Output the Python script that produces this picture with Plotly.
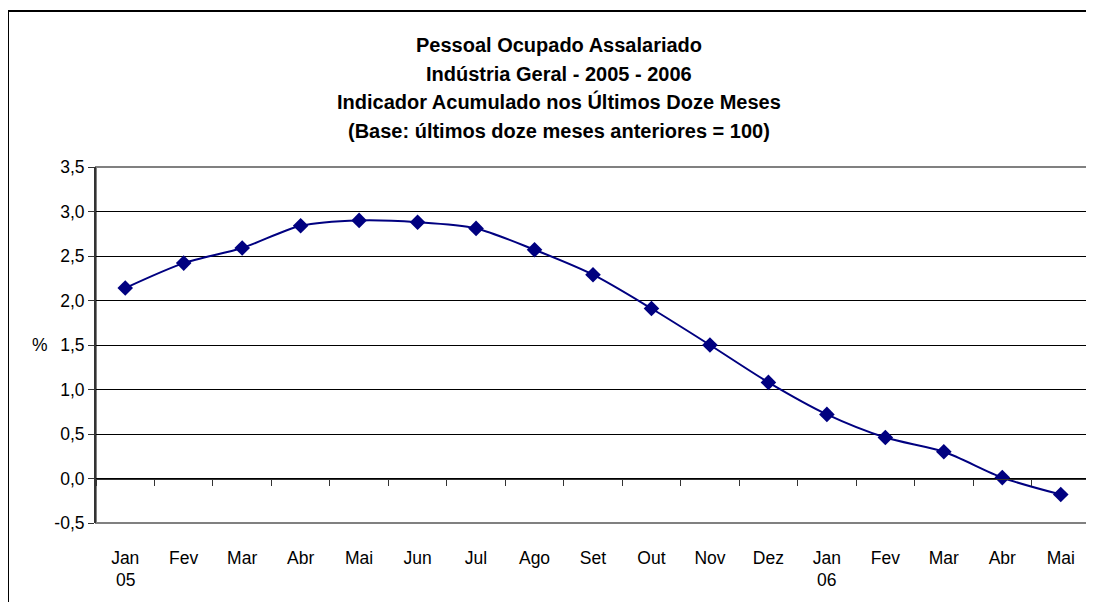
import plotly.graph_objects as go

months = ["Jan", "Fev", "Mar", "Abr", "Mai", "Jun", "Jul", "Ago", "Set", "Out",
          "Nov", "Dez", "Jan", "Fev", "Mar", "Abr", "Mai"]
years = ["05", "", "", "", "", "", "", "", "", "", "", "", "06", "", "", "", ""]
values = [2.14, 2.42, 2.59, 2.84, 2.90, 2.88, 2.81, 2.57, 2.29, 1.91,
          1.50, 1.08, 0.72, 0.46, 0.30, 0.01, -0.18]
y_ticks = [-0.5, 0.0, 0.5, 1.0, 1.5, 2.0, 2.5, 3.0, 3.5]
y_ticktext = ["-0,5", "0,0", "0,5", "1,0", "1,5", "2,0", "2,5", "3,0", "3,5"]
title_lines = ["Pessoal Ocupado Assalariado",
               "Indústria Geral - 2005 - 2006",
               "Indicador Acumulado nos Últimos Doze Meses",
               "(Base: últimos doze meses anteriores = 100)"]

W, H = 1094, 602
# page has an 8px body margin; figure coordinates below are relative to the figure
L, R, T, B = 88, 12, 159, 87
ph = H - T - B
pw = W - L - R
ymin, ymax = -0.5, 3.5

x_idx = list(range(len(months)))
boundaries = [i - 0.5 for i in range(len(months) + 1)]

font = "Liberation Sans, Arial, sans-serif"
tick_size = 17.5

fig = go.Figure()
fig.add_trace(go.Scatter(
    x=x_idx, y=values, mode="lines+markers",
    line=dict(color="#000080", width=2, shape="spline", smoothing=0.8),
    marker=dict(symbol="diamond", size=12, color="#000080"),
    showlegend=False, hoverinfo="x+y"))
# invisible helper trace to host the zero-line axis
fig.add_trace(go.Scatter(x=x_idx, y=values, xaxis="x2", mode="lines",
                         line=dict(width=0), opacity=0, showlegend=False,
                         hoverinfo="skip"))

fig.update_layout(
    width=W, height=H,
    margin=dict(l=L, r=R, t=T, b=B),
    paper_bgcolor="white", plot_bgcolor="white",
    font=dict(family=font, size=16, color="black"),
    xaxis=dict(range=[-0.5, len(months) - 0.5], tickmode="array",
               tickvals=x_idx, ticktext=months, showgrid=False,
               zeroline=False, ticks="", showline=False,
               tickfont=dict(size=tick_size, family=font),
               ticklabelstandoff=22),
    xaxis2=dict(range=[-0.5, len(months) - 0.5], overlaying="x",
                anchor="free", position=(0 - ymin) / (ymax - ymin),
                tickmode="array", tickvals=boundaries, ticks="outside",
                ticklen=6, tickcolor="#333333", tickwidth=1,
                showticklabels=False, showline=True, linecolor="#333333",
                linewidth=1, showgrid=False, zeroline=False),
    yaxis=dict(range=[ymin, ymax], tickmode="array", tickvals=y_ticks,
               ticktext=y_ticktext, showgrid=True, gridcolor="black",
               gridwidth=1, zeroline=False, showline=True,
               linecolor="#333333", linewidth=2, ticks="outside",
               ticklen=6, tickcolor="#333333",
               tickfont=dict(size=tick_size, family=font)),
)

# plot-area border (grey)
fig.add_shape(type="rect", xref="paper", yref="paper", x0=0, y0=0, x1=1, y1=1,
              line=dict(color="#808080", width=2), layer="below")
# outer chart border
fig.add_shape(type="rect", xref="paper", yref="paper",
              x0=(0 - L) / pw, x1=(W + 20 - L) / pw,
              y0=(H - B - (H + 20)) / ph, y1=(H - B - 3) / ph,
              line=dict(color="black", width=2))

for i, line in enumerate(title_lines):
    py = 37 + i * 28.5
    fig.add_annotation(text="<b>" + line + "</b>", xref="paper", yref="paper",
                       x=(551 - L) / pw, y=(H - B - py) / ph,
                       xanchor="center", yanchor="middle", showarrow=False,
                       font=dict(size=20, family=font, color="black"))

# year labels under the month labels
for xi, yr in zip(x_idx, years):
    if yr:
        fig.add_annotation(text=yr, xref="x", yref="paper", x=xi,
                           y=(H - B - 572) / ph, xanchor="center",
                           yanchor="middle", showarrow=False,
                           font=dict(size=tick_size, family=font,
                                     color="black"))

fig.add_annotation(text="%", xref="paper", yref="y", x=(32 - L) / pw, y=1.5,
                   xanchor="center", yanchor="middle", showarrow=False,
                   font=dict(size=tick_size, family=font, color="black"))

fig.write_html("out.html")
